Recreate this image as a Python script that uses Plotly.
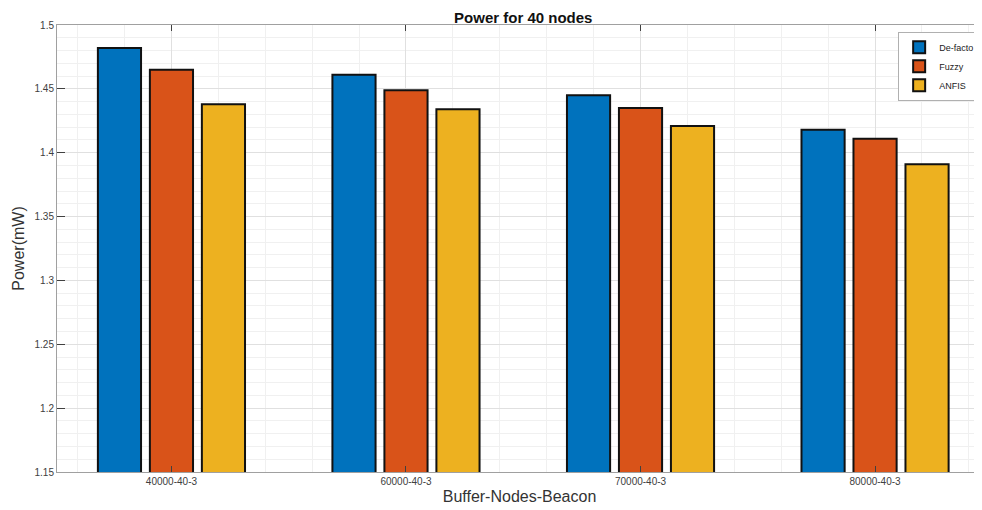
import plotly.graph_objects as go

categories = ["40000-40-3", "60000-40-3", "70000-40-3", "80000-40-3"]
x_pos = [1, 2, 3, 4]
defacto = [1.482, 1.461, 1.445, 1.418]
fuzzy = [1.465, 1.449, 1.435, 1.411]
anfis = [1.438, 1.434, 1.421, 1.391]
y_ticks = [1.15, 1.2, 1.25, 1.3, 1.35, 1.4, 1.45, 1.5]
y_ticktext = ["1.15", "1.2", "1.25", "1.3", "1.35", "1.4", "1.45", "1.5"]

series = [("De-facto", defacto, "#0072BD"),
          ("Fuzzy", fuzzy, "#D95319"),
          ("ANFIS", anfis, "#EDB120")]

fig = go.Figure()
for name, vals, col in series:
    fig.add_trace(go.Bar(x=x_pos, y=vals, name=name,
                         marker=dict(color=col, line=dict(color="#111111", width=2))))

font = "Liberation Sans, Arial, sans-serif"
fig.update_layout(
    width=974, height=502,
    margin=dict(l=49, r=0, t=17, b=38),
    paper_bgcolor="white", plot_bgcolor="white",
    barmode="group", bargap=0.335, bargroupgap=0.17,
    font=dict(family=font, color="#404040"),
    title=dict(text="<b>Power for 40 nodes</b>", x=0.529, xanchor="center",
               y=0.992, yanchor="top", pad=dict(t=0, b=0),
               font=dict(size=15, color="#111111")),
    legend=dict(x=0.998, y=0.985, xanchor="right", yanchor="top",
                bgcolor="white", bordercolor="#b0b0b0", borderwidth=1,
                font=dict(size=9, color="#222222"), tracegroupgap=0,
                itemwidth=30),
    showlegend=True,
)
fig.update_xaxes(
    range=[0.512, 4.456], tickvals=x_pos, ticktext=categories,
    tickfont=dict(size=10, color="#404040"),
    ticks="inside", ticklen=6, tickcolor="#404040", mirror="ticks",
    showline=True, linecolor="#a0a0a0", linewidth=1,
    showgrid=True, gridcolor="#e0e0e0", gridwidth=1,
    minor=dict(dtick=0.2, showgrid=True, gridcolor="#f0f0f0", gridwidth=1),
    title=dict(text="Buffer-Nodes-Beacon", font=dict(size=16, color="#333333"), standoff=4),
    zeroline=False,
)
fig.update_yaxes(
    range=[1.15, 1.5], tickvals=y_ticks, ticktext=y_ticktext,
    tickfont=dict(size=10, color="#404040"),
    ticks="inside", ticklen=8, tickcolor="#404040", mirror="ticks",
    showline=True, linecolor="#a0a0a0", linewidth=1,
    showgrid=True, gridcolor="#e0e0e0", gridwidth=1,
    minor=dict(dtick=0.01, tick0=1.15, showgrid=True, gridcolor="#f0f0f0", gridwidth=1),
    title=dict(text="Power(mW)", font=dict(size=16, color="#333333"), standoff=5),
    zeroline=False,
)

fig.write_html("out.html")
